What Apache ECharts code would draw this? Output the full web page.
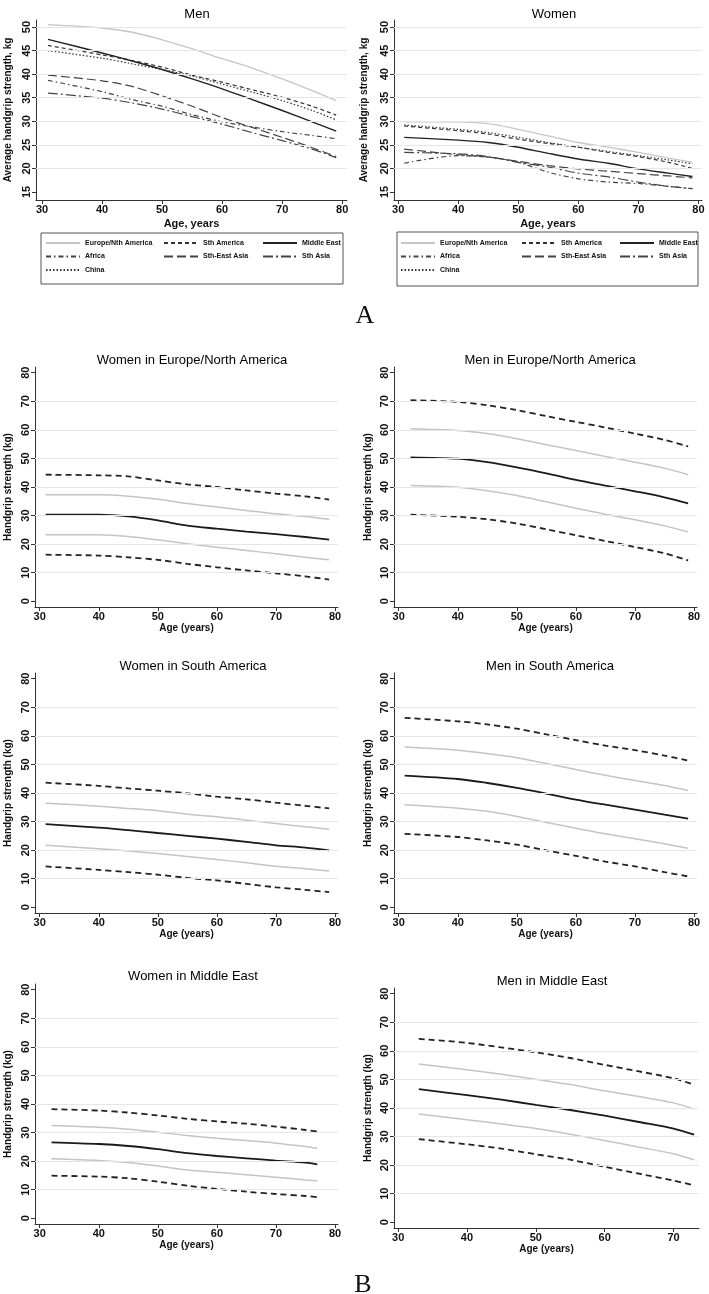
<!DOCTYPE html>
<html>
<head>
<meta charset="utf-8">
<script src="https://cdn.jsdelivr.net/npm/echarts@6/dist/echarts.min.js"></script>
<style>
  html, body { margin: 0; padding: 0; background: #fff; }
  #chart { width: 709px; height: 1294px; }
</style>
</head>
<body>
<div id="chart"></div>
<script>
// ---- Panel A: average handgrip strength by region ----
const ageA = [31, 40, 45, 50, 55, 60, 65, 70, 75, 79];
const regionNames = ['Europe/Nth America', 'Sth America', 'Middle East', 'Africa', 'Sth-East Asia', 'Sth Asia', 'China'];

const menEurope  = [50.5, 49.8, 48.9, 47.3, 45.4, 43.3, 41.3, 39.0, 36.5, 34.4];
const menSthAm   = [46.1, 44.1, 42.9, 41.5, 39.8, 38.3, 36.7, 35.1, 33.2, 31.3];
const menMidEast = [47.4, 44.5, 42.8, 41.0, 39.0, 36.9, 34.6, 32.3, 29.9, 27.9];
const menAfrica  = [38.7, 36.3, 34.6, 33.2, 31.4, 29.9, 28.8, 27.8, 27.0, 26.3];
const menSEAsia  = [39.8, 38.6, 37.4, 35.4, 33.2, 30.8, 28.7, 26.6, 24.4, 22.5];
const menSthAsia = [36.0, 34.9, 33.9, 32.6, 31.0, 29.4, 27.6, 25.9, 24.1, 22.3];
const menChina   = [45.0, 43.4, 42.2, 41.0, 39.6, 37.9, 36.2, 34.4, 32.3, 30.3];

const womenEurope  = [29.9, 29.9, 29.5, 28.3, 26.9, 25.5, 24.5, 23.4, 22.2, 21.3];
const womenSthAm   = [29.0, 28.0, 27.3, 26.2, 25.3, 24.5, 23.4, 22.5, 21.3, 20.0];
const womenMidEast = [26.6, 26.0, 25.5, 24.5, 23.2, 22.0, 21.1, 19.9, 19.0, 18.3];
const womenAfrica  = [21.1, 22.7, 22.4, 21.3, 19.2, 17.8, 17.1, 16.8, 16.2, 15.7];
const womenSEAsia  = [24.1, 22.9, 22.4, 21.5, 20.6, 19.9, 19.4, 18.9, 18.4, 18.0];
const womenSthAsia = [23.4, 23.1, 22.5, 21.3, 20.3, 19.0, 18.2, 17.1, 16.2, 15.7];
const womenChina   = [29.2, 28.3, 27.6, 26.6, 25.5, 24.5, 23.6, 22.7, 21.8, 21.0];

const ticksAx = [30, 40, 50, 60, 70, 80];
const ticksAy = [15, 20, 25, 30, 35, 40, 45, 50];
const gridLinesA = [20, 25, 30, 35, 40, 45, 50];

// ---- Panel B: mean, +/-1 SD (grey) and +/-2 SD (dashed) ----
const ageB  = [31, 40, 45, 50, 55, 60, 65, 70, 75, 79];
const ageBm = [32, 40, 45, 50, 55, 60, 65, 70, 75, 79];
const ageMEw = [32, 40, 45, 50, 55, 60, 65, 70, 75, 77];
const ageMEm = [33, 40, 45, 50, 55, 60, 65, 70, 73];

const wEuUp2  = [44.3, 44.1, 43.7, 42.3, 40.9, 40.0, 38.8, 37.7, 36.7, 35.6];
const wEuUp1  = [37.3, 37.3, 36.8, 35.7, 34.2, 33.0, 31.8, 30.6, 29.7, 28.7];
const wEuMean = [30.3, 30.3, 29.7, 28.3, 26.5, 25.4, 24.4, 23.5, 22.5, 21.6];
const wEuLo1  = [23.3, 23.3, 22.7, 21.5, 20.1, 18.9, 17.8, 16.6, 15.4, 14.5];
const wEuLo2  = [16.3, 16.0, 15.4, 14.5, 13.1, 11.9, 10.8, 9.8, 8.7, 7.6];

const mEuUp2  = [70.4, 69.8, 68.6, 66.9, 64.8, 62.8, 60.8, 58.7, 56.5, 54.2];
const mEuUp1  = [60.4, 59.8, 58.7, 56.9, 54.8, 52.8, 50.7, 48.7, 46.6, 44.3];
const mEuMean = [50.4, 49.9, 48.7, 46.9, 44.8, 42.5, 40.5, 38.5, 36.4, 34.3];
const mEuLo1  = [40.5, 39.9, 38.7, 37.0, 34.8, 32.6, 30.5, 28.5, 26.4, 24.3];
const mEuLo2  = [30.3, 29.6, 28.7, 27.2, 25.2, 23.1, 21.1, 19.0, 16.8, 14.3];

const wSaUp2  = [43.6, 42.5, 41.6, 40.8, 39.9, 38.7, 37.8, 36.6, 35.5, 34.6];
const wSaUp1  = [36.4, 35.4, 34.6, 33.8, 32.6, 31.7, 30.5, 29.3, 28.2, 27.3];
const wSaMean = [29.1, 27.9, 27.0, 26.0, 25.0, 24.0, 22.9, 21.7, 20.9, 19.9];
const wSaLo1  = [21.7, 20.5, 19.7, 18.8, 17.8, 16.7, 15.6, 14.4, 13.5, 12.7];
const wSaLo2  = [14.3, 13.1, 12.3, 11.4, 10.3, 9.4, 8.2, 7.0, 6.1, 5.3];

const mSaUp2  = [66.3, 65.1, 64.0, 62.5, 60.5, 58.5, 56.6, 55.0, 53.1, 51.3];
const mSaUp1  = [56.1, 55.0, 53.8, 52.3, 50.3, 48.2, 46.2, 44.4, 42.6, 40.9];
const mSaMean = [46.1, 44.9, 43.5, 41.8, 39.8, 37.7, 35.9, 34.2, 32.4, 31.0];
const mSaLo1  = [35.9, 34.7, 33.6, 31.8, 29.7, 27.7, 25.7, 24.0, 22.2, 20.7];
const mSaLo2  = [25.7, 24.6, 23.4, 21.9, 19.9, 18.0, 16.0, 14.3, 12.3, 10.8];

const wMeUp2  = [38.2, 37.7, 37.0, 36.0, 34.8, 33.9, 33.1, 32.1, 30.9, 30.4];
const wMeUp1  = [32.5, 31.9, 31.2, 30.1, 29.0, 28.0, 27.2, 26.3, 25.1, 24.5];
const wMeMean = [26.6, 26.0, 25.3, 24.2, 22.8, 21.8, 21.0, 20.2, 19.5, 18.9];
const wMeLo1  = [20.8, 20.2, 19.5, 18.3, 16.9, 16.1, 15.2, 14.4, 13.4, 13.1];
const wMeLo2  = [14.9, 14.6, 14.0, 12.8, 11.4, 10.3, 9.3, 8.5, 7.8, 7.4];

const mMeUp2  = [64.2, 62.8, 61.2, 59.5, 57.5, 55.1, 52.8, 50.4, 48.1];
const mMeUp1  = [55.4, 53.4, 51.8, 50.1, 48.2, 46.0, 44.0, 41.8, 39.6];
const mMeMean = [46.6, 44.5, 42.9, 41.1, 39.3, 37.3, 35.1, 32.8, 30.7];
const mMeLo1  = [37.9, 35.9, 34.4, 32.8, 30.8, 28.6, 26.3, 24.0, 21.9];
const mMeLo2  = [29.1, 27.3, 25.8, 23.8, 21.9, 19.4, 17.0, 14.6, 12.9];

const ticksBx = [30, 40, 50, 60, 70, 80];
const ticksBxME = [30, 40, 50, 60, 70];
const ticksBy = [0, 10, 20, 30, 40, 50, 60, 70, 80];
const gridLinesB = [10, 20, 30, 40, 50, 60, 70];

const FONT = '"Liberation Sans", Arial, sans-serif';
const AXIS_COLOR = '#333';

// grid layout: [left, top, width, height, xmin, xmax, ymin, ymax]
const layouts = [
  [36, 20, 311, 180, 29, 80.8, 13.3, 51.5],
  [394, 20, 308, 180, 29.3, 80.6, 13.3, 51.5],
  [35, 367, 303, 240, 29.2, 80.5, -2, 82],
  [394, 367, 303, 240, 29.2, 80.5, -2, 82],
  [35, 673, 303, 240, 29.2, 80.5, -2, 82],
  [394, 673, 303, 240, 29.2, 80.5, -2, 82],
  [35, 984, 303, 240, 29.2, 80.5, -2, 82],
  [394, 988, 305, 240, 29.4, 73.7, -2, 82]
];

const grids = [], xAxes = [], yAxes = [], titles = [], series = [];

layouts.forEach(function (l, i) {
  const isA = i < 2;
  const xt = i === 7 ? ticksBxME : (isA ? ticksAx : ticksBx);
  const yt = isA ? ticksAy : ticksBy;
  grids.push({ left: l[0], top: l[1], width: l[2], height: l[3], outerBoundsMode: 'none', containLabel: false });
  xAxes.push({
    type: 'value', gridIndex: i, min: l[4], max: l[5],
    name: isA ? 'Age, years' : 'Age (years)',
    nameLocation: 'middle', nameGap: isA ? 18 : 16,
    nameTextStyle: { fontFamily: FONT, fontSize: isA ? 11 : 10, fontWeight: 'bold', color: '#111' },
    axisLine: { show: true, onZero: false, lineStyle: { color: AXIS_COLOR, width: 1 } },
    axisTick: { show: true, length: 4, customValues: xt, lineStyle: { color: AXIS_COLOR } },
    axisLabel: { customValues: xt, fontFamily: FONT, fontSize: 11, fontWeight: 'bold', color: '#111', margin: 4 },
    splitLine: { show: false }
  });
  const leftCol = l[0] < 100;
  yAxes.push({
    type: 'value', gridIndex: i, min: l[6], max: l[7],
    name: isA ? 'Average handgrip strength, kg' : 'Handgrip strength (kg)',
    nameLocation: 'middle', nameRotate: 90,
    nameGap: isA ? (leftCol ? 23 : 25) : (leftCol ? 22 : 21),
    nameTextStyle: { fontFamily: FONT, fontSize: 10, fontWeight: 'bold', color: '#111' },
    axisLine: { show: true, onZero: false, lineStyle: { color: AXIS_COLOR, width: 1 } },
    axisTick: { show: true, length: 4, customValues: yt, lineStyle: { color: AXIS_COLOR } },
    axisLabel: { customValues: yt, rotate: 90, fontFamily: FONT, fontSize: 11, fontWeight: 'bold', color: '#111', margin: 4 },
    splitLine: { show: false }
  });
  // light horizontal grid lines
  series.push({
    type: 'line', xAxisIndex: i, yAxisIndex: i, data: [], silent: true, z: 1,
    markLine: {
      silent: true, symbol: 'none', label: { show: false },
      lineStyle: { color: '#e6e6e6', width: 1, type: 'solid' },
      data: (isA ? gridLinesA : gridLinesB).map(function (v) { return { yAxis: v }; })
    }
  });
});

const titleTexts = [
  ['Men', 192, 3], ['Women', 549, 3],
  ['Women in Europe/North America', 187, 349], ['Men in Europe/North America', 545, 349],
  ['Women in South America', 188, 655], ['Men in South America', 545, 655],
  ['Women in Middle East', 188, 965], ['Men in Middle East', 547, 970]
];
titleTexts.forEach(function (t) {
  titles.push({ text: t[0], left: t[1], top: t[2], textAlign: 'center',
    textStyle: { fontFamily: FONT, fontSize: 13, fontWeight: 'normal', color: '#000' } });
});
titles.push({ text: 'A', left: 360, top: 298, textAlign: 'center',
  textStyle: { fontFamily: '"Liberation Serif", "Times New Roman", serif', fontSize: 26, fontWeight: 'normal', color: '#111' } });
titles.push({ text: 'B', left: 358, top: 1267, textAlign: 'center',
  textStyle: { fontFamily: '"Liberation Serif", "Times New Roman", serif', fontSize: 26, fontWeight: 'normal', color: '#111' } });

// region styles for panel A
const regionStyles = {
  'Europe/Nth America': { color: '#c6c6c6', width: 1.3, type: 'solid' },
  'Sth America':        { color: '#333', width: 1.2, type: [4, 3] },
  'Middle East':        { color: '#222', width: 1.4, type: 'solid' },
  'Africa':             { color: '#444', width: 1.2, type: [5, 3, 1.5, 3] },
  'Sth-East Asia':      { color: '#444', width: 1.2, type: [9, 4] },
  'Sth Asia':           { color: '#444', width: 1.2, type: [10, 3, 2, 3] },
  'China':              { color: '#333', width: 1.2, type: [1.5, 2] }
};
const menSets = [menEurope, menSthAm, menMidEast, menAfrica, menSEAsia, menSthAsia, menChina];
const womenSets = [womenEurope, womenSthAm, womenMidEast, womenAfrica, womenSEAsia, womenSthAsia, womenChina];

function pairs(ages, vals) {
  return ages.map(function (a, k) { return [a, vals[k]]; });
}
function line(name, idx, ages, vals, style, z) {
  return {
    type: 'line', name: name, xAxisIndex: idx, yAxisIndex: idx,
    data: pairs(ages, vals), symbol: 'none', showSymbol: false, smooth: 0.3,
    lineStyle: style, itemStyle: { color: style.color }, z: z || 2,
    emphasis: { disabled: true }
  };
}
regionNames.forEach(function (n, k) {
  const s = regionStyles[n];
  series.push(line(n, 0, ageA, menSets[k], s, n === 'Europe/Nth America' ? 2 : 3));
  series.push(line(n, 1, ageA, womenSets[k], s, n === 'Europe/Nth America' ? 2 : 3));
});

// panel B
const DASH = { color: '#222', width: 1.8, type: [6, 4] };
const GREY = { color: '#c4c4c4', width: 1.5, type: 'solid' };
const MEAN = { color: '#1a1a1a', width: 1.8, type: 'solid' };
const panelB = [
  [2, ageB,   wEuUp2, wEuUp1, wEuMean, wEuLo1, wEuLo2],
  [3, ageBm,  mEuUp2, mEuUp1, mEuMean, mEuLo1, mEuLo2],
  [4, ageB,   wSaUp2, wSaUp1, wSaMean, wSaLo1, wSaLo2],
  [5, ageB,   mSaUp2, mSaUp1, mSaMean, mSaLo1, mSaLo2],
  [6, ageMEw, wMeUp2, wMeUp1, wMeMean, wMeLo1, wMeLo2],
  [7, ageMEm, mMeUp2, mMeUp1, mMeMean, mMeLo1, mMeLo2]
];
panelB.forEach(function (p) {
  const i = p[0], ages = p[1];
  series.push(line('b' + i + 'up2', i, ages, p[2], DASH));
  series.push(line('b' + i + 'up1', i, ages, p[3], GREY));
  series.push(line('b' + i + 'mean', i, ages, p[4], MEAN, 3));
  series.push(line('b' + i + 'lo1', i, ages, p[5], GREY));
  series.push(line('b' + i + 'lo2', i, ages, p[6], DASH));
});

// legends for panel A, three columns each
function legendCol(left, names) {
  return {
    orient: 'vertical', left: left, top: 239, data: names,
    itemWidth: 34, itemHeight: 10, itemGap: 5.5, selectedMode: false,
    itemStyle: { opacity: 0 },
    textStyle: { fontFamily: FONT, fontSize: 7, fontWeight: 'bold', color: '#111' },
    padding: 0
  };
}
const legendCols = [['Europe/Nth America', 'Africa', 'China'], ['Sth America', 'Sth-East Asia'], ['Middle East', 'Sth Asia']];
const legends = [
  legendCol(45, legendCols[0]), legendCol(163, legendCols[1]), legendCol(262, legendCols[2]),
  legendCol(400, legendCols[0]), legendCol(521, legendCols[1]), legendCol(619, legendCols[2])
];

const chart = echarts.init(document.getElementById('chart'), null, { renderer: 'canvas' });
chart.setOption({
  backgroundColor: '#fff',
  animation: false,
  title: titles,
  legend: legends,
  grid: grids,
  xAxis: xAxes,
  yAxis: yAxes,
  series: series,
  graphic: [
    { type: 'rect', shape: { x: 41, y: 233, width: 302, height: 51 }, style: { fill: 'none', stroke: '#555', lineWidth: 1 }, silent: true },
    { type: 'rect', shape: { x: 397, y: 232, width: 301, height: 54 }, style: { fill: 'none', stroke: '#555', lineWidth: 1 }, silent: true }
  ]
});
</script>
</body>
</html>
